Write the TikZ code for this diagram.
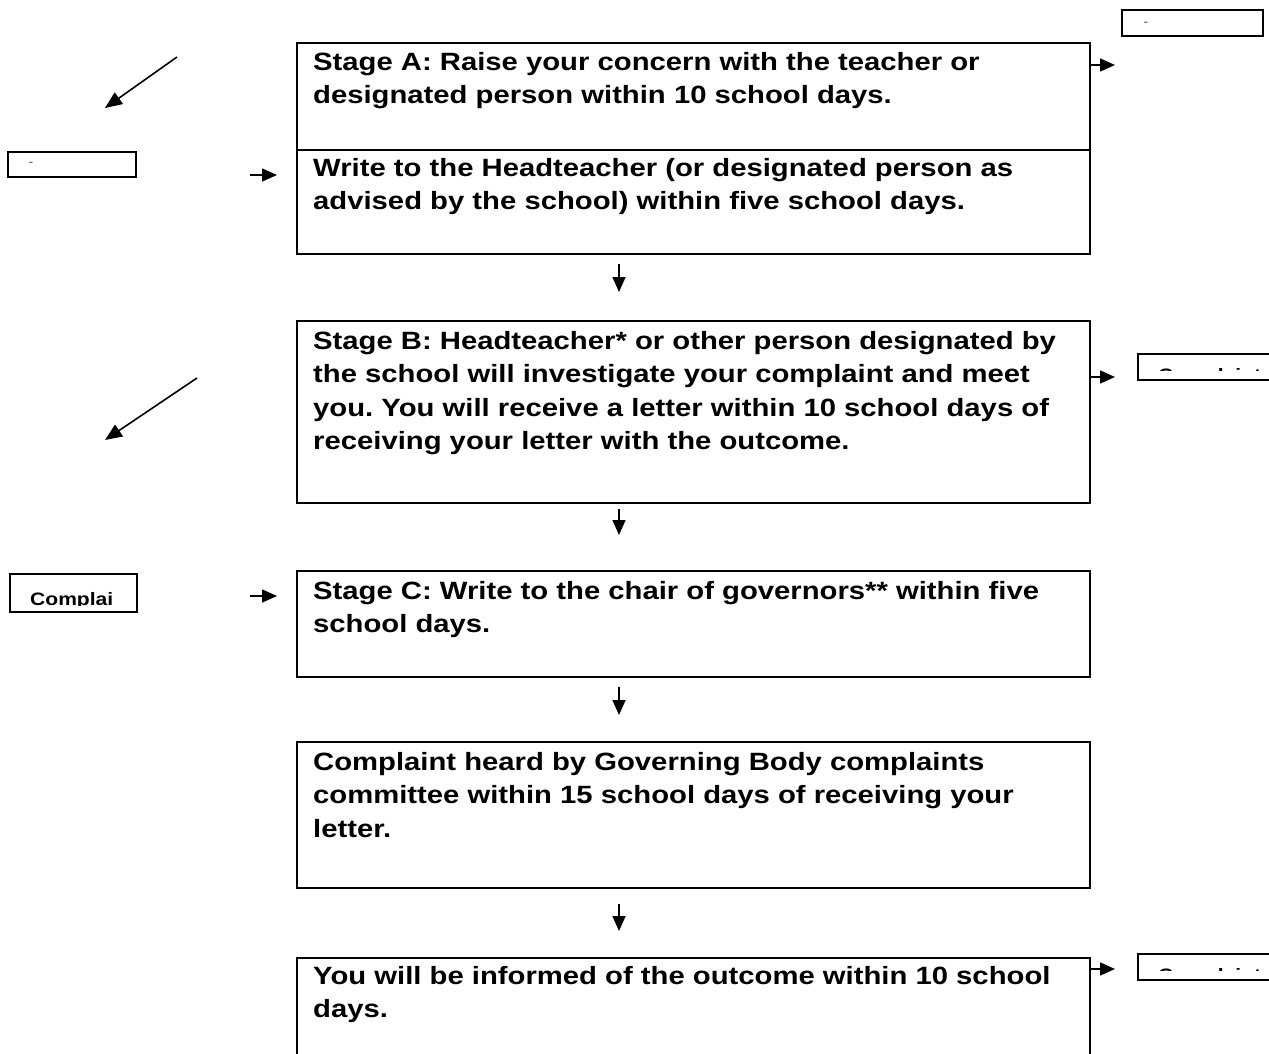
\documentclass[tikz,border=0pt]{standalone}
\usepackage{fontspec}
\setmainfont{Liberation Sans}
\newfontfamily\widefont[FakeStretch=1.17]{Liberation Sans}
\usetikzlibrary{arrows.meta}
\frenchspacing
\begin{document}
\begin{tikzpicture}[x=1pt,y=-1pt,
  box/.style={draw,line width=2pt},
  small/.style={draw,line width=1.8pt},
  txt/.style={anchor=north west,align=left,inner sep=0pt,font=\widefont\fontsize{25}{33.5}\selectfont\bfseries},
  arr/.style={line width=1.6pt,-{Triangle[length=15pt,width=13pt]}},
  darr/.style={line width=1.6pt,-{Triangle[length=17pt,width=14pt]}},
  tiny/.style={inner sep=0pt,text=gray!70!black,font=\fontsize{14}{14}\selectfont},
  cfont/.style={anchor=base west,inner sep=0pt,font=\widefont\fontsize{18}{18}\selectfont\bfseries}]
\clip (0,0) rectangle (1269,1054);
\fill[white] (0,0) rectangle (1269,1054);

% main boxes
\draw[box] (297,43) rectangle (1090,150);
\draw[box] (297,150) rectangle (1090,254);
\draw[box] (297,321) rectangle (1090,503);
\draw[box] (297,571) rectangle (1090,677);
\draw[box] (297,742) rectangle (1090,888);
\draw[box] (297,958) rectangle (1090,1070);

% texts
\node[txt] (ta) at (313,52) {Stage A: Raise your concern with the teacher or\\designated person within 10 school days.};
\node[txt] (tw) at (313,158) {Write to the Headteacher (or designated person as\\advised by the school) within five school days.};
\node[txt] (tb) at (313,331) {Stage B: Headteacher* or other person designated by\\the school will investigate your complaint and meet\\you. You will receive a letter within 10 school days of\\receiving your letter with the outcome.};
\node[txt] (tc) at (313,581) {Stage C: Write to the chair of governors** within five\\school days.};
\node[txt] (td) at (313,752) {Complaint heard by Governing Body complaints\\committee within 15 school days of receiving your\\letter.};
\node[txt] (te) at (313,966) {You will be informed of the outcome within 10 school\\days.};

% side boxes
\draw[small] (1122,10) rectangle (1263,36);
\node[tiny] (d1) at (1146,24) {-};
\draw[small] (8,152) rectangle (136,177);
\node[tiny] (d2) at (31,164) {-};
\draw[small] (10,574) rectangle (137,612);
\begin{scope}
  \clip (12,576) rectangle (113,605);
  \node[cfont] (cl) at (30,605) {Complaint};
\end{scope}
\draw[small] (1138,354) rectangle (1280,380);
\begin{scope}
  \clip (1140,356) rectangle (1269,370);
  \node[cfont] (cr1) at (1158,381) {Complaint};
\end{scope}
\draw[small] (1138,954) rectangle (1280,980);
\begin{scope}
  \clip (1140,956) rectangle (1269,970);
  \node[cfont] (cr2) at (1158,981) {Complaint};
\end{scope}

% connector coordinates
\coordinate (a1) at (1090,65);  \coordinate (a2) at (1115,65);
\coordinate (b1) at (250,175);  \coordinate (b2) at (277,175);
\coordinate (c1) at (1090,377); \coordinate (c2) at (1115,377);
\coordinate (e1) at (250,596);  \coordinate (e2) at (277,596);
\coordinate (f1) at (1090,969); \coordinate (f2) at (1115,969);
\coordinate (g1) at (177,57);   \coordinate (g2) at (105,108);
\coordinate (h1) at (197,378);  \coordinate (h2) at (105,440);
\coordinate (v1) at (619,264);  \coordinate (v2) at (619,292);
\coordinate (v3) at (619,509);  \coordinate (v4) at (619,535);
\coordinate (v5) at (619,687);  \coordinate (v6) at (619,715);
\coordinate (v7) at (619,904);  \coordinate (v8) at (619,931);

\draw[arr] (a1) -- (a2);
\draw[arr] (b1) -- (b2);
\draw[arr] (c1) -- (c2);
\draw[arr] (e1) -- (e2);
\draw[arr] (f1) -- (f2);
\draw[darr] (g1) -- (g2);
\draw[darr] (h1) -- (h2);
\draw[arr] (v1) -- (v2);
\draw[arr] (v3) -- (v4);
\draw[arr] (v5) -- (v6);
\draw[arr] (v7) -- (v8);
\end{tikzpicture}
\end{document}
